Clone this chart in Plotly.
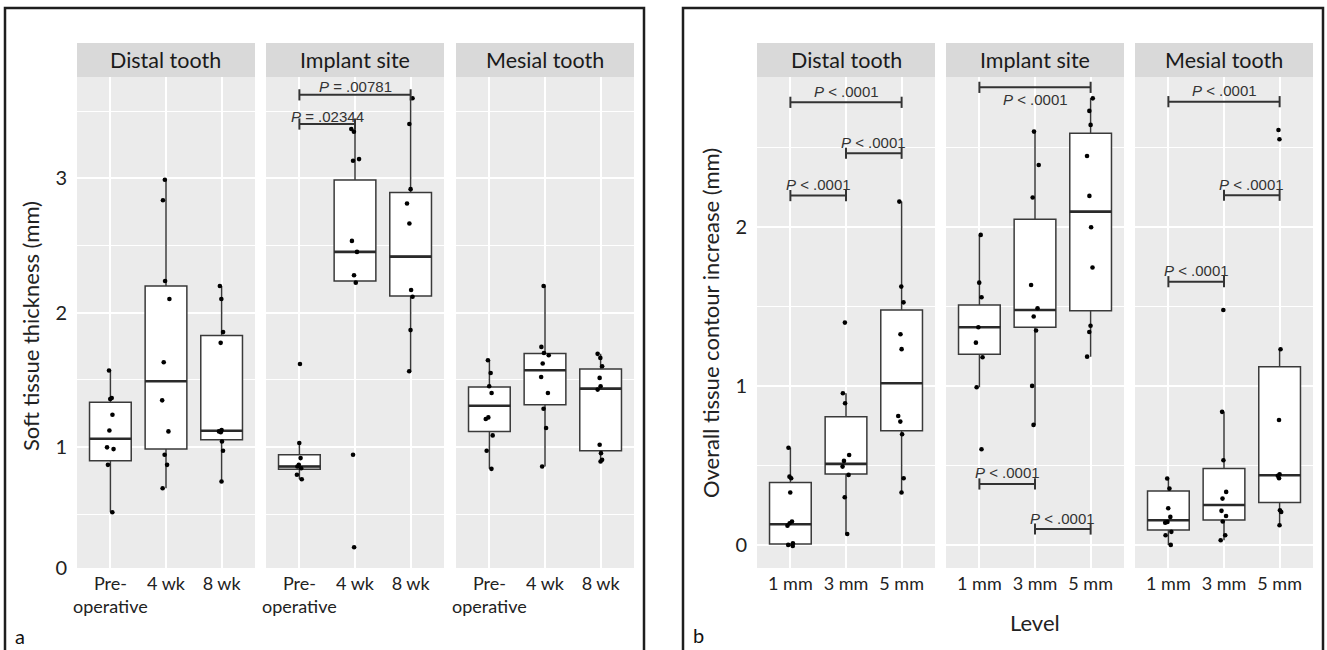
import plotly.graph_objects as go

W, H = 1327, 650

# ---------------- data ----------------
FACETS = ["Distal tooth", "Implant site", "Mesial tooth"]
TICKS_A = ["Pre-<br>operative", "4 wk", "8 wk"]
TICKS_B = ["1 mm", "3 mm", "5 mm"]
Y_TITLE_A = "Soft tissue thickness (mm)"
Y_TITLE_B = "Overall tissue contour increase (mm)"
X_TITLE_B = "Level"
Y_TICKS_A = ["0", "1", "2", "3"]
Y_TICKS_B = ["0", "1", "2"]

# Panel a - box statistics (per category: Pre-operative, 4 wk, 8 wk)
A_DISTAL_LOW = [0.515, 0.694, 0.744]
A_DISTAL_Q1 = [0.898, 0.985, 1.055]
A_DISTAL_MED = [1.062, 1.490, 1.122]
A_DISTAL_Q3 = [1.333, 2.199, 1.831]
A_DISTAL_HIGH = [1.572, 2.990, 2.199]

A_IMPLANT_LOW = [0.761, 2.224, 1.565]
A_IMPLANT_Q1 = [0.836, 2.236, 2.124]
A_IMPLANT_MED = [0.856, 2.453, 2.418]
A_IMPLANT_Q3 = [0.943, 2.988, 2.896]
A_IMPLANT_HIGH = [1.030, 3.368, 3.597]

A_MESIAL_LOW = [0.838, 0.856, 0.893]
A_MESIAL_Q1 = [1.117, 1.316, 0.973]
A_MESIAL_MED = [1.308, 1.572, 1.435]
A_MESIAL_Q3 = [1.448, 1.697, 1.582]
A_MESIAL_HIGH = [1.647, 2.199, 1.694]

# Panel a - individual observations
A_DISTAL_PRE = [1.570, 1.366, 1.358, 1.241, 1.124, 0.998, 0.985, 0.868, 0.515]
A_DISTAL_4WK = [2.990, 2.838, 2.236, 2.102, 1.632, 1.348, 1.117, 0.943, 0.868, 0.694]
A_DISTAL_8WK = [2.199, 2.102, 1.856, 1.776, 1.127, 1.117, 1.110, 1.042, 0.973, 0.744]
A_IMPLANT_PRE = [1.619, 1.030, 0.918, 0.868, 0.856, 0.843, 0.794, 0.761]
A_IMPLANT_4WK = [3.368, 3.348, 3.144, 3.132, 2.535, 2.453, 2.279, 2.224, 0.943, 0.254]
A_IMPLANT_8WK = [3.597, 3.405, 2.920, 2.813, 2.664, 2.169, 2.119, 1.871, 1.565]
A_MESIAL_PRE = [1.647, 1.552, 1.453, 1.403, 1.221, 1.209, 1.087, 0.973, 0.838]
A_MESIAL_4WK = [2.199, 1.746, 1.701, 1.684, 1.622, 1.522, 1.403, 1.286, 1.142, 0.856]
A_MESIAL_8WK = [1.694, 1.664, 1.602, 1.515, 1.453, 1.428, 1.017, 0.955, 0.905, 0.893]

# Panel b - box statistics (per level: 1 mm, 3 mm, 5 mm)
B_DISTAL_LOW = [-0.006, 0.069, 0.329]
B_DISTAL_Q1 = [0.006, 0.446, 0.718]
B_DISTAL_MED = [0.130, 0.509, 1.016]
B_DISTAL_Q3 = [0.392, 0.806, 1.476]
B_DISTAL_HIGH = [0.611, 0.953, 2.157]

B_IMPLANT_LOW = [0.990, 0.754, 1.183]
B_IMPLANT_Q1 = [1.198, 1.368, 1.472]
B_IMPLANT_MED = [1.368, 1.476, 2.094]
B_IMPLANT_Q3 = [1.508, 2.046, 2.586]
B_IMPLANT_HIGH = [1.948, 2.597, 2.806]

B_MESIAL_LOW = [0.000, 0.029, 0.124]
B_MESIAL_Q1 = [0.094, 0.157, 0.266]
B_MESIAL_MED = [0.155, 0.251, 0.438]
B_MESIAL_Q3 = [0.339, 0.480, 1.120]
B_MESIAL_HIGH = [0.417, 0.836, 1.229]

# Panel b - individual observations
B_DISTAL_1MM = [0.611, 0.429, 0.419, 0.329, 0.147, 0.136, 0.121, 0.010, 0.000, -0.006]
B_DISTAL_3MM = [1.397, 0.953, 0.890, 0.565, 0.528, 0.492, 0.440, 0.300, 0.069]
B_DISTAL_5MM = [2.157, 1.623, 1.524, 1.324, 1.230, 0.810, 0.775, 0.695, 0.419, 0.329]
B_IMPLANT_1MM = [1.948, 1.648, 1.556, 1.368, 1.271, 1.179, 0.991, 0.601]
B_IMPLANT_3MM = [2.597, 2.387, 2.183, 1.633, 1.487, 1.435, 1.347, 0.999, 0.754]
B_IMPLANT_5MM = [2.806, 2.727, 2.639, 2.444, 2.193, 1.996, 1.743, 1.377, 1.338, 1.183]
B_MESIAL_1MM = [0.417, 0.354, 0.230, 0.176, 0.144, 0.140, 0.082, 0.061, 0.000]
B_MESIAL_3MM = [1.476, 0.836, 0.532, 0.333, 0.291, 0.214, 0.182, 0.147, 0.061, 0.029]
B_MESIAL_5MM = [2.607, 2.549, 1.229, 0.785, 0.444, 0.434, 0.419, 0.218, 0.207, 0.124]

# Significance brackets: (from category, to category, height, label, label below?)
A_IMPLANT_SIG = [(0, 2, 3.622, "<i>P</i> = .00781", False),
                 (0, 1, 3.405, "<i>P</i> = .02344", False)]
B_DISTAL_SIG = [(0, 2, 2.781, "<i>P</i> &lt; .0001", False),
                (1, 2, 2.461, "<i>P</i> &lt; .0001", False),
                (0, 1, 2.195, "<i>P</i> &lt; .0001", False)]
B_IMPLANT_SIG = [(0, 2, 2.875, "<i>P</i> &lt; .0001", True),
                 (0, 1, 0.383, "<i>P</i> &lt; .0001", False),
                 (1, 2, 0.100, "<i>P</i> &lt; .0001", False)]
B_MESIAL_SIG = [(0, 2, 2.785, "<i>P</i> &lt; .0001", False),
                (1, 2, 2.197, "<i>P</i> &lt; .0001", False),
                (0, 1, 1.654, "<i>P</i> &lt; .0001", False)]

# ---------------- layout helpers ----------------
FONT = "Lato, 'Noto Sans', sans-serif"
PFONT = "'Liberation Sans', Arial, sans-serif"
TXT = "#222222"
BOXLINE = "#3a3a3a"


def px(x):
    return x / W


def py(y):
    return 1 - y / H


FACET_X = [(77, 255), (266, 444), (456, 634), (757, 935), (946, 1124), (1135, 1313)]
PANEL_TOP, PANEL_BOT, STRIP_TOP = 77, 568, 43
Y_RANGE_A = [0.10, 3.755]
Y_RANGE_B = [-0.145, 2.94]

facets = [
    dict(stats=(A_DISTAL_LOW, A_DISTAL_Q1, A_DISTAL_MED, A_DISTAL_Q3, A_DISTAL_HIGH),
         pts=(A_DISTAL_PRE, A_DISTAL_4WK, A_DISTAL_8WK), sig=[], panel="a"),
    dict(stats=(A_IMPLANT_LOW, A_IMPLANT_Q1, A_IMPLANT_MED, A_IMPLANT_Q3, A_IMPLANT_HIGH),
         pts=(A_IMPLANT_PRE, A_IMPLANT_4WK, A_IMPLANT_8WK), sig=A_IMPLANT_SIG, panel="a"),
    dict(stats=(A_MESIAL_LOW, A_MESIAL_Q1, A_MESIAL_MED, A_MESIAL_Q3, A_MESIAL_HIGH),
         pts=(A_MESIAL_PRE, A_MESIAL_4WK, A_MESIAL_8WK), sig=[], panel="a"),
    dict(stats=(B_DISTAL_LOW, B_DISTAL_Q1, B_DISTAL_MED, B_DISTAL_Q3, B_DISTAL_HIGH),
         pts=(B_DISTAL_1MM, B_DISTAL_3MM, B_DISTAL_5MM), sig=B_DISTAL_SIG, panel="b"),
    dict(stats=(B_IMPLANT_LOW, B_IMPLANT_Q1, B_IMPLANT_MED, B_IMPLANT_Q3, B_IMPLANT_HIGH),
         pts=(B_IMPLANT_1MM, B_IMPLANT_3MM, B_IMPLANT_5MM), sig=B_IMPLANT_SIG, panel="b"),
    dict(stats=(B_MESIAL_LOW, B_MESIAL_Q1, B_MESIAL_MED, B_MESIAL_Q3, B_MESIAL_HIGH),
         pts=(B_MESIAL_1MM, B_MESIAL_3MM, B_MESIAL_5MM), sig=B_MESIAL_SIG, panel="b"),
]

fig = go.Figure()
annotations = []
shapes = []
layout = {}
POS = [0, 1, 2]

for n, f in enumerate(facets, start=1):
    xa = "x" if n == 1 else f"x{n}"
    ya = "y" if n == 1 else f"y{n}"
    low, q1, med, q3, high = f["stats"]

    fig.add_trace(go.Box(
        x=POS, lowerfence=low, q1=q1, median=med, q3=q3, upperfence=high,
        width=0.75, whiskerwidth=0, fillcolor="white",
        line=dict(color=BOXLINE, width=1.5), boxpoints=False,
        xaxis=xa, yaxis=ya, showlegend=False, hoverinfo="skip"))
    # thicker median bar (ggplot fatten)
    fig.add_trace(go.Box(
        x=POS, lowerfence=med, q1=med, median=med, q3=med, upperfence=med,
        width=0.75, whiskerwidth=0, fillcolor="rgba(0,0,0,0)",
        line=dict(color="#2a2a2a", width=2.6), boxpoints=False,
        xaxis=xa, yaxis=ya, showlegend=False, hoverinfo="skip"))
    xs, ys = [], []
    for i, vals in enumerate(f["pts"]):
        xs += [i] * len(vals)
        ys += list(vals)
    fig.add_trace(go.Box(
        x=xs, y=ys, boxpoints="all", jitter=0.22, pointpos=0, width=0.75,
        fillcolor="rgba(0,0,0,0)", line=dict(width=0, color="rgba(0,0,0,0)"),
        marker=dict(color="black", size=4.6, line=dict(width=0)),
        xaxis=xa, yaxis=ya, showlegend=False, hoverinfo="skip"))

    for (a, b, v, label, below) in f["sig"]:
        fig.add_trace(go.Scatter(
            x=[a, b], y=[v, v], mode="lines+markers",
            line=dict(color="#333333", width=2),
            marker=dict(symbol="line-ns", size=8, line=dict(width=2, color="#333333")),
            xaxis=xa, yaxis=ya, showlegend=False, hoverinfo="skip"))
        annotations.append(dict(
            x=(a + b) / 2, y=v, xref=xa, yref=ya, text=label, showarrow=False,
            xanchor="center", yanchor="middle",
            yshift=(-12 if below else (8 if f["panel"] == "a" else 11)),
            font=dict(family=PFONT, size=15, color="#333333")))

    x0, x1 = FACET_X[n - 1]
    first = n in (1, 4)
    is_a = f["panel"] == "a"
    layout["xaxis" if n == 1 else f"xaxis{n}"] = dict(
        domain=[px(x0), px(x1)], anchor=ya, range=[-0.6, 2.6], automargin=False,
        tickmode="array", tickvals=POS, ticktext=TICKS_A if is_a else TICKS_B,
        tickangle=0,
        showgrid=True, gridcolor="white", gridwidth=1.6, zeroline=False,
        showline=False, ticks="", ticklabelstandoff=3,
        tickfont=dict(family=FONT, size=18, color=TXT), fixedrange=True)
    yd = dict(
        domain=[py(PANEL_BOT), py(PANEL_TOP)], anchor=xa, automargin=False,
        range=Y_RANGE_A if is_a else Y_RANGE_B,
        tickmode="array",
        tickvals=([Y_RANGE_A[0], 1, 2, 3] if is_a else [0, 1, 2]),
        ticktext=(Y_TICKS_A if is_a else Y_TICKS_B),
        showticklabels=first, showgrid=True, gridcolor="white", gridwidth=1.6,
        minor=dict(tickvals=([0.5, 1.5, 2.5, 3.5] if is_a else [0.5, 1.5, 2.5]),
                   showgrid=True, gridcolor="white", gridwidth=0.8, ticks=""),
        zeroline=False, showline=False, ticks="", ticklabelstandoff=9,
        tickfont=dict(family=FONT, size=20, color=TXT), fixedrange=True)
    if n in (2, 3):
        yd["matches"] = "y"
    if n in (5, 6):
        yd["matches"] = "y4"
    layout["yaxis" if n == 1 else f"yaxis{n}"] = yd

    # facet strip
    shapes.append(dict(type="rect", xref="paper", yref="paper",
                       x0=px(x0), x1=px(x1), y0=py(PANEL_TOP), y1=py(STRIP_TOP),
                       fillcolor="#D9D9D9", line=dict(width=0), layer="below"))
    annotations.append(dict(x=px((x0 + x1) / 2), y=py((PANEL_TOP + STRIP_TOP) / 2),
                            xref="paper", yref="paper", text=FACETS[(n - 1) % 3],
                            showarrow=False, xanchor="center", yanchor="middle",
                            font=dict(family=FONT, size=21.5, color="#1a1a1a")))

# outer panel frames
for (l, r) in [(5, 644), (683, 1323)]:
    shapes.append(dict(type="rect", xref="paper", yref="paper",
                       x0=px(l), x1=px(r), y0=py(8), y1=py(665),
                       line=dict(color="#1e1e1e", width=2.5), fillcolor="rgba(0,0,0,0)"))

# axis titles and panel letters
annotations += [
    dict(x=px(31), y=py(326), text=Y_TITLE_A, textangle=-90,
         font=dict(family=FONT, size=22, color=TXT)),
    dict(x=px(710), y=py(323), text=Y_TITLE_B, textangle=-90,
         font=dict(family=FONT, size=22, color=TXT)),
    dict(x=px(1035), y=py(622), text=X_TITLE_B,
         font=dict(family=FONT, size=22, color=TXT)),
    dict(x=px(20), y=py(636), text="a", font=dict(family=FONT, size=20, color="#111")),
    dict(x=px(698), y=py(635), text="b", font=dict(family=FONT, size=20, color="#111")),
]
for ann in annotations[-5:]:
    ann.update(xref="paper", yref="paper", showarrow=False,
               xanchor="center", yanchor="middle")

fig.update_layout(
    width=W, height=H, margin=dict(l=0, r=0, t=0, b=0, pad=0, autoexpand=False),
    paper_bgcolor="white", plot_bgcolor="#EBEBEB", boxmode="overlay",
    showlegend=False, annotations=annotations, shapes=shapes, **layout)

fig.write_html("out.html", config={"displayModeBar": False},
               post_script="document.body.style.margin='0';"
                           "document.body.style.overflow='hidden';")
